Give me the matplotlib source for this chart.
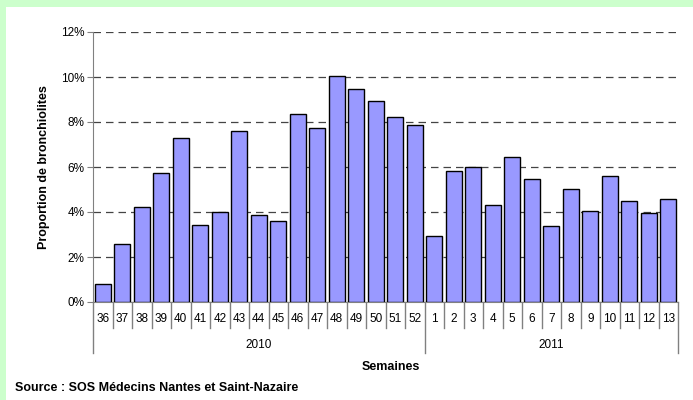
import numpy as np
import matplotlib.pyplot as plt
from matplotlib.patches import Rectangle

plt.rcParams['font.family'] = ['Liberation Sans', 'DejaVu Sans']

weeks = ['36', '37', '38', '39', '40', '41', '42', '43', '44', '45', '46', '47',
         '48', '49', '50', '51', '52',
         '1', '2', '3', '4', '5', '6', '7', '8', '9', '10', '11', '12', '13']
years = ['2010', '2011']
year_counts = [17, 13]
proportion = [0.80, 2.56, 4.24, 5.75, 7.27, 3.42, 3.99, 7.60, 3.85, 3.61, 8.37, 7.75,
              10.06, 9.45, 8.93, 8.21, 7.88,
              2.95, 5.84, 5.99, 4.33, 6.43, 5.45, 3.38, 5.04, 4.03, 5.61, 4.50, 3.94, 4.56]

fig = plt.figure(figsize=(6.93, 4.0), dpi=100)
fig.patch.set_facecolor('white')
# green border top and left
fig.patches.append(Rectangle((0, 1 - 7 / 400), 1, 7 / 400, transform=fig.transFigure,
                             facecolor='#CCFFCC', edgecolor='none', zorder=0))
fig.patches.append(Rectangle((0, 0), 6 / 693, 1, transform=fig.transFigure,
                             facecolor='#CCFFCC', edgecolor='none', zorder=0))

ax = fig.add_axes([93 / 693, 1 - 302 / 400, (678 - 93) / 693, 270 / 400])
x = np.arange(len(weeks))
ax.bar(x, proportion, width=0.8, color='#9999FF', edgecolor='black', linewidth=1, zorder=3)

ax.set_xlim(-0.5, len(weeks) - 0.5)
ax.set_ylim(0, 12)
ax.set_yticks(np.arange(0, 13, 2))
ax.set_yticklabels([f'{v}%' for v in range(0, 13, 2)], fontsize=8.5)
for v in range(2, 13, 2):
    ax.axhline(v, color='#444444', linestyle=(0, (6, 4)), linewidth=0.9, zorder=1)

for s in ['top', 'right']:
    ax.spines[s].set_visible(False)
ax.spines['left'].set_color('#808080')
ax.spines['bottom'].set_color('#808080')
ax.tick_params(axis='y', length=4, color='#808080', pad=2)
ax.tick_params(axis='x', length=0)
ax.set_xticks([])

# category axis with two levels
trans = ax.get_xaxis_transform()
px = 1 / 270  # one pixel in axes y units
for i, w in enumerate(weeks):
    ax.text(i, -17 * px, w, ha='center', va='center', fontsize=8.5, transform=trans)
bounds = np.cumsum([0] + year_counts) - 0.5
for i in range(len(weeks) + 1):
    b = i - 0.5
    depth = 51 if b in bounds else 26
    ax.plot([b, b], [0, -depth * px], color='#808080', linewidth=1,
            transform=trans, clip_on=False)
for k, yr in enumerate(years):
    mid = (bounds[k] + bounds[k + 1]) / 2
    ax.text(mid, -43 * px, yr, ha='center', va='center', fontsize=8.5, transform=trans)

ax.set_ylabel('Proportion de bronchiolites', fontsize=9, fontweight='bold', labelpad=8)
fig.text(391 / 693, 1 - 367 / 400, 'Semaines', ha='center', va='center',
         fontsize=9, fontweight='bold')
fig.text(15 / 693, 1 - 388 / 400, 'Source : SOS Médecins Nantes et Saint-Nazaire',
         ha='left', va='center', fontsize=9, fontweight='bold')

fig.savefig('out.png', dpi=100)
